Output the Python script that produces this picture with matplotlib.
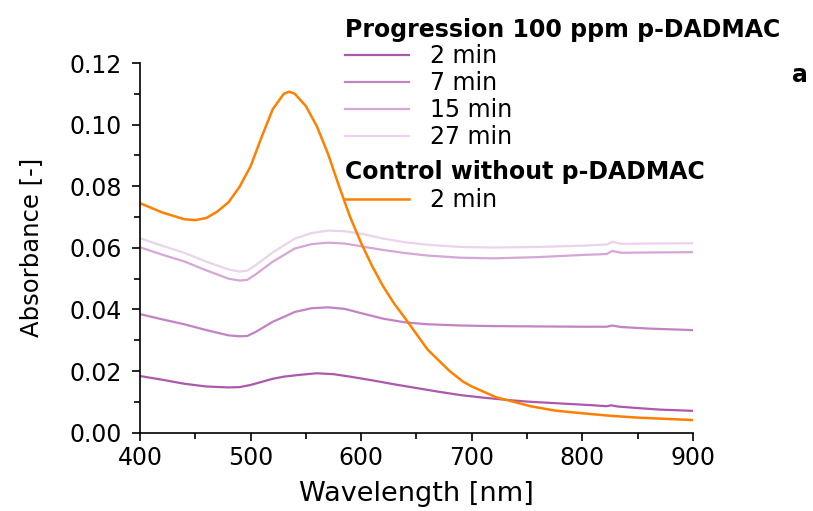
import matplotlib
matplotlib.use("Agg")
import matplotlib.pyplot as plt
import numpy as np

plt.rcParams["font.family"] = "DejaVu Sans"

# wavelength [nm] / absorbance [-]
wl_2 = [400, 420, 440, 460, 480, 490, 500, 510, 520, 530, 545, 560, 575, 590, 610, 630, 650,
        670, 690, 710, 730, 750, 770, 790, 810, 822, 826, 832, 850, 870, 900]
abs_2 = [0.0184, 0.0172, 0.0159, 0.0150, 0.0147, 0.0148, 0.0155, 0.0165, 0.0175, 0.0182, 0.0188,
         0.0193, 0.0190, 0.0182, 0.0170, 0.0157, 0.0145, 0.0133, 0.0122, 0.0114, 0.0107, 0.0101,
         0.0097, 0.0093, 0.0089, 0.0086, 0.0089, 0.0085, 0.0080, 0.0075, 0.0071]

wl_prog = [400, 420, 440, 460, 480, 490, 497, 505, 520, 540, 555, 570, 585, 600, 620, 640, 660,
           690, 720, 760, 800, 822, 827, 835, 860, 900]
abs_7 = [0.0385, 0.0368, 0.0352, 0.0333, 0.0316, 0.0313, 0.0314, 0.0328, 0.0360, 0.0392, 0.0404,
         0.0407, 0.0402, 0.0388, 0.0370, 0.0358, 0.0352, 0.0348, 0.0346, 0.0345, 0.0344, 0.0344,
         0.0348, 0.0343, 0.0338, 0.0333]
abs_15 = [0.0602, 0.0578, 0.0556, 0.0527, 0.0500, 0.0494, 0.0496, 0.0515, 0.0555, 0.0598, 0.0612,
          0.0617, 0.0614, 0.0605, 0.0593, 0.0583, 0.0575, 0.0568, 0.0566, 0.0570, 0.0577, 0.0580,
          0.0590, 0.0584, 0.0585, 0.0586]
abs_27 = [0.0631, 0.0607, 0.0584, 0.0555, 0.0530, 0.0523, 0.0526, 0.0545, 0.0585, 0.0630, 0.0648,
          0.0656, 0.0654, 0.0646, 0.0630, 0.0618, 0.0610, 0.0603, 0.0601, 0.0603, 0.0607, 0.0611,
          0.0620, 0.0613, 0.0614, 0.0615]

wl_ctrl = [400, 420, 440, 450, 460, 470, 480, 490, 500, 510, 520, 530, 535, 540, 550, 560, 570,
           580, 590, 600, 610, 620, 630, 640, 650, 660, 670, 680, 692, 700, 722, 734, 753, 775,
           800, 825, 850, 875, 900]
abs_ctrl = [0.0745, 0.0715, 0.0693, 0.0690, 0.0697, 0.0718, 0.0748, 0.0798, 0.0865, 0.0960,
            0.1050, 0.1100, 0.1107, 0.1100, 0.1060, 0.0994, 0.0905, 0.0800, 0.0700, 0.0615,
            0.0540, 0.0474, 0.0418, 0.0370, 0.0320, 0.0270, 0.0235, 0.0200, 0.0166, 0.0150,
            0.0115, 0.0104, 0.0086, 0.0072, 0.0063, 0.0055, 0.0049, 0.0045, 0.0041]

fig = plt.figure(figsize=(8.13, 5.11), dpi=100)
ax = fig.add_axes([0.1722, 0.1532, 0.6802, 0.7235])

l2, = ax.plot(wl_2, abs_2, color="#ac58ac", lw=1.6)
l7, = ax.plot(wl_prog, abs_7, color="#c283c2", lw=1.6)
l15, = ax.plot(wl_prog, abs_15, color="#d6a6d6", lw=1.6)
l27, = ax.plot(wl_prog, abs_27, color="#ebd3eb", lw=1.6)
lc, = ax.plot(wl_ctrl, abs_ctrl, color="#ff8000", lw=1.8)

ax.set_xlim(400, 900)
ax.set_ylim(0, 0.12)
ax.set_xticks(np.arange(400, 901, 100))
ax.set_xticks(np.arange(450, 900, 100), minor=True)
ax.set_yticks(np.arange(0, 0.121, 0.02))
ax.set_yticks(np.arange(0.01, 0.12, 0.02), minor=True)
ax.yaxis.set_major_formatter(matplotlib.ticker.FormatStrFormatter("%.2f"))
for s in ["top", "right"]:
    ax.spines[s].set_visible(False)
for s in ["left", "bottom"]:
    ax.spines[s].set_linewidth(1.2)
ax.tick_params(which="major", length=6, width=1.2, labelsize=17, direction="out")
ax.tick_params(which="minor", length=4, width=1.2, direction="out")
ax.tick_params(axis="y", which="major", pad=7)
ax.set_xlabel("Wavelength [nm]", fontsize=19.5, labelpad=8)
ax.set_ylabel("Absorbance [-]", fontsize=17.5, labelpad=19)

leg1 = ax.legend([l2, l7, l15, l27], ["2 min", "7 min", "15 min", "27 min"],
                 title="Progression 100 ppm p-DADMAC", alignment="left",
                 title_fontproperties={"weight": "bold", "size": 17},
                 loc="upper left", bbox_to_anchor=(345 / 813, 1 - 17.5 / 511),
                 bbox_transform=fig.transFigure, frameon=False, fontsize=17,
                 handlelength=2.7, handletextpad=0.9, labelspacing=0.12,
                 borderpad=0, borderaxespad=0)
ax.add_artist(leg1)
ax.legend([lc], ["2 min"], title="Control without p-DADMAC", alignment="left",
          title_fontproperties={"weight": "bold", "size": 17},
          loc="upper left", bbox_to_anchor=(345 / 813, 1 - 159.5 / 511),
          bbox_transform=fig.transFigure, frameon=False, fontsize=17,
          handlelength=2.7, handletextpad=0.9, labelspacing=0.2,
          borderpad=0, borderaxespad=0)

fig.text(800 / 813, 1 - 75 / 511, "a", fontsize=17, fontweight="bold", ha="center", va="center")

fig.savefig("out.png", dpi=100)
